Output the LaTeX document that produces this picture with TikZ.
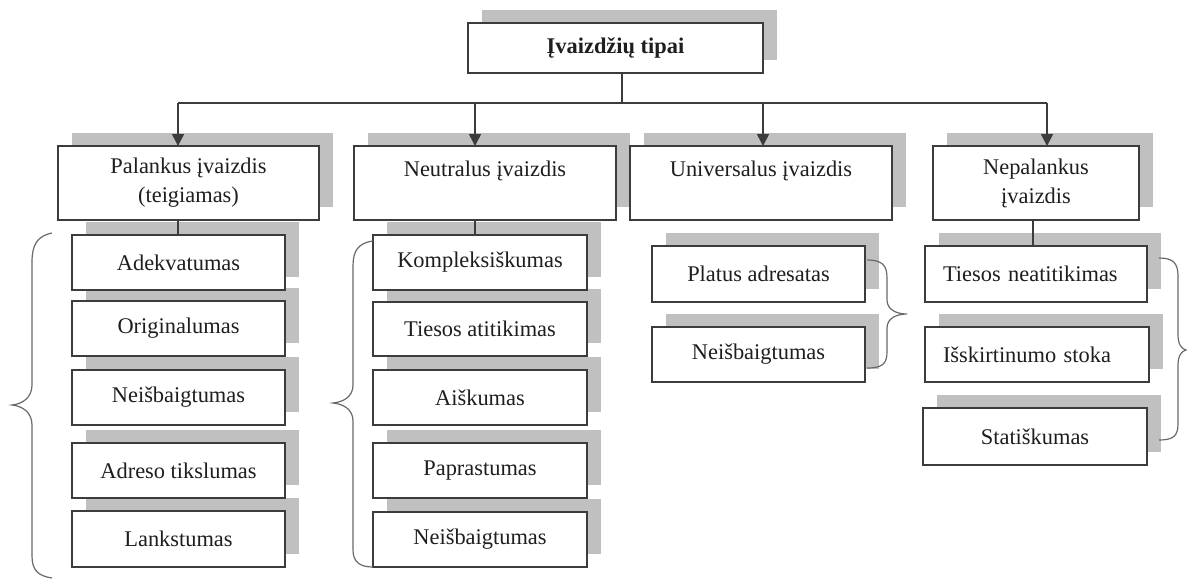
\documentclass[tikz,border=0pt]{standalone}
\usepackage{fontspec}
\setmainfont{Liberation Serif}
\usetikzlibrary{arrows.meta,backgrounds}
\definecolor{ln}{RGB}{60,60,60}
\definecolor{sh}{RGB}{192,192,192}
\definecolor{br}{RGB}{105,105,105}
\definecolor{tx}{RGB}{30,30,30}
\tikzset{
 box/.style={draw=ln, line width=0.9pt, fill=white, inner sep=0pt, outer sep=0pt, align=center, text=tx, font=\fontsize{11.2pt}{14.5pt}\selectfont},
 conn/.style={draw=ln, line width=0.8pt},
 arr/.style={conn, -{Triangle[width=6pt,length=6pt]}},
 bracestyle/.style={draw=br, line width=0.6pt},
 leftbox/.style={text width={#1}, align=left},
}
\newcommand\bx[7][]{%
 \begin{pgfonlayer}{background}\fill[sh] ({#3+14},{#4-13}) rectangle ({#5+14},{#6-13});\end{pgfonlayer}
 \node[box, minimum width={(#5-#3)*0.5pt}, minimum height={(#6-#4)*0.5pt}, #1] (#2) at ({(#3+#5)/2},{(#4+#6)/2}) {#7};
}
\begin{document}
\begin{tikzpicture}[x=0.5pt,y=-0.5pt]
\useasboundingbox (0,0) rectangle (1187,579);
% top
\bx{t}{468}{23}{763}{73}{\textbf{Įvaizdžių tipai}}
% level 2
\bx{p}{58}{146}{319}{220}{Palankus įvaizdis\\(teigiamas)}
\bx{n}{354}{146}{616}{220}{Neutralus įvaizdis\\\mbox{}}
\bx{u}{630}{146}{892}{220}{Universalus įvaizdis\\\mbox{}}
\bx{np}{933}{146}{1139}{220}{Nepalankus\\įvaizdis}
% Palankus column
\bx{p1}{72}{235}{285}{290}{Adekvatumas}
\bx{p2}{72}{301}{285}{356}{Originalumas}
\bx{p3}{72}{370}{285}{425}{Neišbaigtumas}
\bx{p4}{72}{443}{285}{498}{Adreso tikslumas}
\bx{p5}{72}{511}{285}{567}{Lankstumas}
% Neutralus column
\bx{n1}{373}{235}{587}{290}{Kompleksiškumas}
\bx{n2}{373}{302}{587}{356}{Tiesos atitikimas}
\bx{n3}{373}{370}{587}{425}{Aiškumas}
\bx{n4}{373}{443}{587}{498}{Paprastumas}
\bx{n5}{373}{512}{587}{567}{Neišbaigtumas}
% Universalus column
\bx{u1}{652}{246}{865}{302}{Platus adresatas}
\bx{u2}{652}{327}{865}{382}{Neišbaigtumas}
% Nepalankus column
\bx[leftbox=93pt]{np1}{925}{246}{1147}{302}{Tiesos neatitikimas}
\bx[leftbox=94pt]{np2}{925}{327}{1149}{382}{Išskirtinumo stoka}
\bx{np3}{923}{408}{1147}{465}{Statiškumas}
% connectors
\coordinate (j) at (622,103);
\coordinate (ja) at (178,103);
\coordinate (jb) at (475,103);
\coordinate (jc) at (763,103);
\coordinate (jd) at (1047,103);
\coordinate (ke) at (1033,103);
\draw[conn] (j |- t.south) -- (j);
\draw[conn] (ja) -- (jd);
\draw[arr] (ja) -- (ja |- p.north);
\draw[arr] (jb) -- (jb |- n.north);
\draw[arr] (jc) -- (jc |- u.north);
\draw[arr] (jd) -- (jd |- np.north);
\draw[conn] (ja |- p.south) -- (ja |- p1.north);
\draw[conn] (jb |- n.south) -- (jb |- n1.north);
\draw[conn] (ke |- np.south) -- (ke |- np1.north);
% braces
\draw[bracestyle] (52,233) .. controls (37,236) and (32,245) .. (32,262) -- (32,385)
  .. controls (32,398) and (22,404) .. (12,405) .. controls (22,406) and (32,412) .. (32,425)
  -- (32,556) .. controls (32,570) and (38,576) .. (52,578);
\draw[bracestyle] (373,241) .. controls (358,243) and (353,251) .. (353,266) -- (353,385)
  .. controls (353,397) and (343,402) .. (333,403) .. controls (343,404) and (353,409) .. (353,421)
  -- (353,550) .. controls (353,562) and (360,567) .. (373,567);
\draw[bracestyle] (867,260) .. controls (882,260) and (887,265) .. (887,278) -- (887,300)
  .. controls (887,310) and (897,314) .. (907,314) .. controls (897,314) and (887,318) .. (887,328)
  -- (887,352) .. controls (887,364) and (882,368) .. (867,368);
\draw[bracestyle] (1159,258) .. controls (1173,258) and (1178,263) .. (1178,276) -- (1178,335)
  .. controls (1178,345) and (1182,349) .. (1186,350) .. controls (1182,351) and (1178,355) .. (1178,365)
  -- (1178,424) .. controls (1178,436) and (1173,440) .. (1159,440);
\end{tikzpicture}
\end{document}
